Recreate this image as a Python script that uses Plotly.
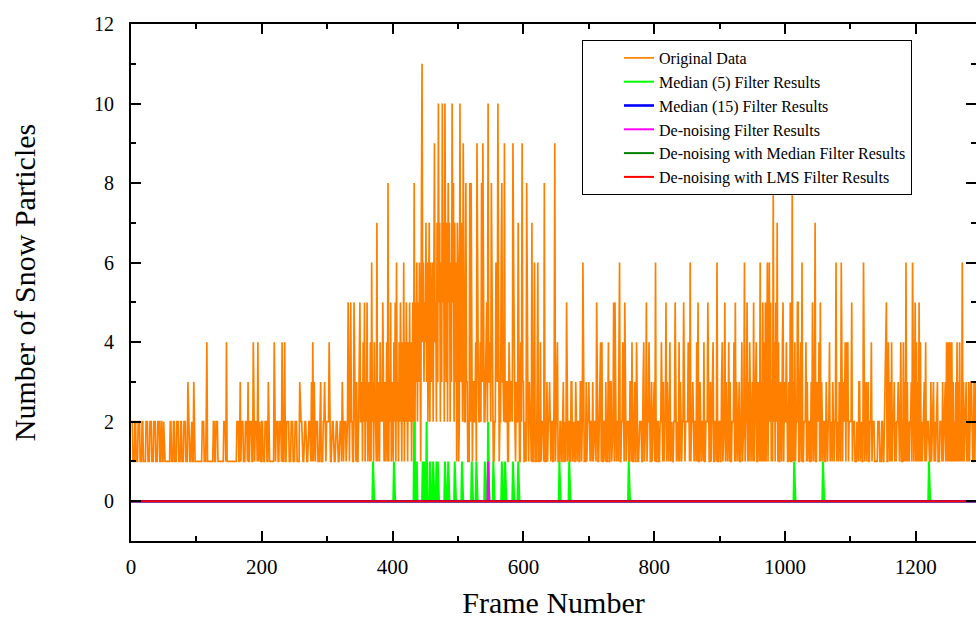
import plotly.graph_objects as go

# ---------------- data ----------------
# Original data: one character per frame (hex digit: A=10, B=11), grouped by 10 frames,
# one string per block of 100 frames.
original_blocks = [
    "2221112211 1222111221 1112221112 2211122211 1222112211 2111111111 2211122111 2221112211 1222111321 1122113111",
    "1111111112 2211124111 1111112211 2221111111 1122214111 1111111111 1122211312 2211122213 1122211411 2221412211",
    "2211122211 3111111114 1122211222 1411241122 2211122211 1222111132 2211122211 1222113141 3112221112 3111223112",
    "2224111222 1112221112 2213112221 2251135221 1522131124 5223142513 2512314162 3142217132 1423252131 2418132512",
    "3142516231 4253142614 2531425241 3528153625 36417B4635 4736257263 5627945273 A57263A572 A637285726 3A58273617",
    "612A375294 2283311182 8113322419 3322428394 223352A334 2833112263 3A11226833 2922331142 2332962213 2273114293",
    "3112182213 2217113611 1361114122 2181113122 3112211391 2241112211 2311215112 2113312211 3112211331 2621113122",
    "3112213122 2151112241 4112213112 4113312251 5112213611 2241151122 2113314112 3114211222 2113412251 2241113122",
    "3161122112 2411312251 3112412211 2251121141 3112251122 2241161223 1122141511 3112214112 2251113122 4112216112",
    "2113412251 3112413112 2241513112 3112412261 2251314112 3151224113 2161315141 5136146251 3182415271 4113214513",
    "2241113151 1813141225 5113416112 2241312211 3151127113 2241513112 2113212241 2113212261 2113216113 2241424122",
    "2251222111 2113312211 6112313311 2241222111 1122211122 1123351142 1314122312 1223112411 1413161312 1223161125",
    "1413151412 1223141222 1113122312 1223111222 1312231414 1414141312 1314131412 1613122312 1313331113 1333131313",
]

# Median (5) filter: frames where the result is non-zero, and its value there
median5_frames = [370, 402, 433, 437, 446, 448, 452, 457, 462, 467, 469, 480, 485, 495,
                  506, 521, 528, 541, 546, 554, 567, 572, 584, 592, 655, 670, 761,
                  1014, 1058, 1220]
median5_values = [1, 1, 2, 1, 1, 1, 2, 1, 1, 1, 1, 1, 1, 1,
                  1, 1, 1, 1, 2, 1, 1, 1, 1, 1, 1, 1, 1,
                  1, 1, 1]

# De-noising filter: non-zero frames / values
denoise_frames = [546]
denoise_values = [1]

series_names = [
    "Original Data",
    "Median (5) Filter Results",
    "Median (15) Filter Results",
    "De-noising Filter Results",
    "De-noising with Median Filter Results",
    "De-noising with LMS Filter Results",
]

x_ticks = [0, 200, 400, 600, 800, 1000, 1200]
y_ticks = [0, 2, 4, 6, 8, 10, 12]

# ---------------- build series ----------------
original = [int(c, 16) for block in original_blocks for c in block.replace(" ", "")]
n = len(original)
frames = list(range(n))

median5 = [0] * n
for f, v in zip(median5_frames, median5_values):
    median5[f] = v
median15 = [0] * n
denoise = [0] * n
for f, v in zip(denoise_frames, denoise_values):
    denoise[f] = v
denoise_median = [0] * n
denoise_lms = [0] * n

FONT = "Liberation Serif"

fig = go.Figure()
fig.add_trace(go.Scatter(x=frames, y=original, mode="lines", name=series_names[0],
                         line=dict(color="#FF8000", width=1.7), legendrank=1))
fig.add_trace(go.Scatter(x=frames, y=median5, mode="lines", name=series_names[1],
                         line=dict(color="#00FF00", width=2), legendrank=2))
fig.add_trace(go.Scatter(x=frames, y=denoise, mode="lines", name=series_names[3],
                         line=dict(color="#FF00FF", width=2), legendrank=4))
fig.add_trace(go.Scatter(x=frames, y=denoise_median, mode="lines", name=series_names[4],
                         line=dict(color="#008000", width=2), legendrank=5))
fig.add_trace(go.Scatter(x=frames, y=median15, mode="lines", name=series_names[2],
                         line=dict(color="#0000FF", width=2.6), legendrank=3))
fig.add_trace(go.Scatter(x=frames, y=denoise_lms, mode="lines", name=series_names[5],
                         line=dict(color="#FF0000", width=2), legendrank=6))
# helper trace so the right-hand tick axis is drawn
fig.add_trace(go.Scatter(x=[None], y=[None], yaxis="y2", showlegend=False,
                         hoverinfo="skip", mode="lines"))

axis_common = dict(
    showgrid=False, zeroline=False, ticks="inside", tickwidth=1.5, ticklen=10,
    tickcolor="black", linecolor="black", linewidth=2,
)

fig.update_layout(
    width=976, height=621,
    margin=dict(l=131, r=0, t=24, b=80),
    plot_bgcolor="white", paper_bgcolor="white",
    font=dict(family=FONT, color="black"),
    xaxis=dict(
        range=[0, 1292], tickmode="array", tickvals=x_ticks,
        ticktext=[str(v) for v in x_ticks],
        showline=True, mirror="ticks",
        minor=dict(dtick=100, tick0=0, ticks="inside", ticklen=5, tickwidth=1.5, tickcolor="black"),
        tickfont=dict(family=FONT, size=21), ticklabelstandoff=6,
        title=dict(text="Frame Number", font=dict(family=FONT, size=30), standoff=14),
        **axis_common,
    ),
    yaxis=dict(
        range=[-1, 12], tickmode="array", tickvals=y_ticks,
        ticktext=[str(v) for v in y_ticks],
        showline=True, mirror=False,
        minor=dict(dtick=1, tick0=1, ticks="inside", ticklen=5, tickwidth=1.5, tickcolor="black"),
        tickfont=dict(family=FONT, size=20), ticklabelstandoff=11,
        title=dict(text="Number of Snow Particles", font=dict(family=FONT, size=30), standoff=50),
        **axis_common,
    ),
    yaxis2=dict(
        range=[-1, 12], overlaying="y", side="right", anchor="x",
        tickmode="array", tickvals=y_ticks, showticklabels=False,
        showline=False, showgrid=False, zeroline=False,
        ticks="inside", ticklen=10, tickwidth=1.5, tickcolor="black",
        minor=dict(dtick=1, tick0=1, ticks="inside", ticklen=5, tickwidth=1.5, tickcolor="black"),
    ),
    legend=dict(
        x=(582 - 131) / 845, y=1 - (40 - 24) / 517, xanchor="left", yanchor="top",
        bgcolor="white", bordercolor="black", borderwidth=1,
        font=dict(family=FONT, size=16, color="black"),
        indentation=36, tracegroupgap=0,
    ),
    showlegend=True,
)

fig.write_html("out.html")
